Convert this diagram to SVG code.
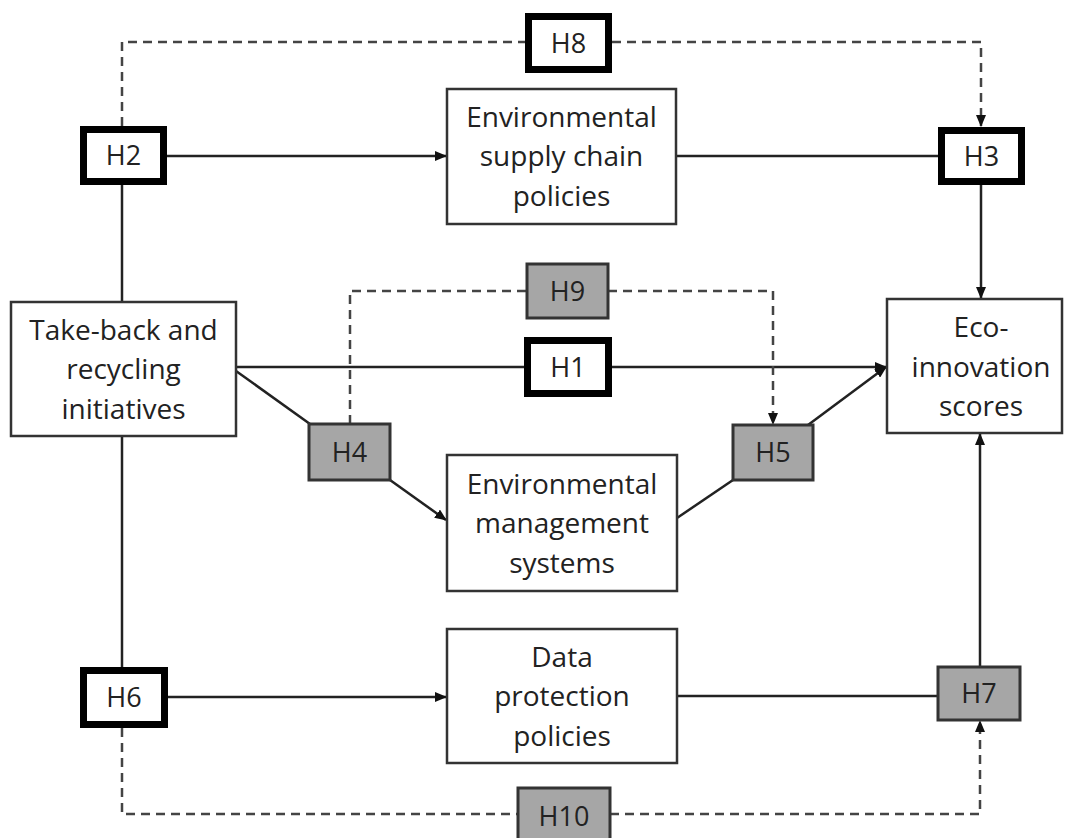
<svg xmlns="http://www.w3.org/2000/svg" width="1068" height="838" viewBox="0 0 1068 838">
<defs>
<marker id="ah" markerUnits="userSpaceOnUse" markerWidth="12" markerHeight="10" refX="11" refY="5" orient="auto">
<path d="M0,0 L12,5 L0,10 Z" fill="#111"/>
</marker>
<style>
.box{fill:#fff;stroke:#333;stroke-width:2.5}
.thick{fill:#fff;stroke:#000;stroke-width:7}
.gray{fill:#a6a6a6;stroke:#333;stroke-width:3}
.lbl{font-family:"Open Sans","Noto Sans",sans-serif;font-size:28px;fill:#222;text-anchor:middle}
.h{font-family:"Open Sans","Noto Sans",sans-serif;font-size:27px;fill:#222;text-anchor:middle}
.ln{fill:none;stroke:#222;stroke-width:2.5}
.ds{fill:none;stroke:#444;stroke-width:2.5;stroke-dasharray:9 6}
</style>
</defs>
<rect width="1068" height="838" fill="#fff"/>
<g id="connectors">
<path class="ds" d="M122,126 V42 H525"/>
<path class="ds" d="M612,42 H981 V126" marker-end="url(#ah)"/>
<path class="ln" d="M167,156 H446" marker-end="url(#ah)"/>
<path class="ln" d="M676,156 H938"/>
<path class="ln" d="M981,185 V298" marker-end="url(#ah)"/>
<path class="ln" d="M122,185 V302"/>
<path class="ln" d="M122,436 V667"/>
<path class="ln" d="M236,367 H524"/>
<path class="ln" d="M612,367 H886" marker-end="url(#ah)"/>
<path class="ln" d="M236,371 L310,424"/>
<path class="ln" d="M390,480 L446,520" marker-end="url(#ah)"/>
<path class="ln" d="M677,518 L733,480"/>
<path class="ln" d="M808,425 L886,367" marker-end="url(#ah)"/>
<path class="ds" d="M350,424 V291 H527"/>
<path class="ds" d="M608,291 H773 V424" marker-end="url(#ah)"/>
<path class="ln" d="M168,697 H446" marker-end="url(#ah)"/>
<path class="ln" d="M677,696 H938"/>
<path class="ln" d="M980,667 V434" marker-end="url(#ah)"/>
<path class="ds" d="M122,728 V814 H518"/>
<path class="ds" d="M610,814 H980 V721" marker-end="url(#ah)"/>
</g>
<g id="takeback">
<rect class="box" x="11" y="302" width="225" height="134"/>
<text class="lbl" x="123.5" y="339.5">Take-back and</text>
<text class="lbl" x="123.5" y="379">recycling</text>
<text class="lbl" x="123.5" y="418.5">initiatives</text>
</g>
<g id="escp">
<rect class="box" x="447" y="89" width="229" height="135"/>
<text class="lbl" x="561.5" y="126.5">Environmental</text>
<text class="lbl" x="561.5" y="166">supply chain</text>
<text class="lbl" x="561.5" y="205.5">policies</text>
</g>
<g id="ems">
<rect class="box" x="447" y="455" width="230" height="136"/>
<text class="lbl" x="562" y="493.5">Environmental</text>
<text class="lbl" x="562" y="533">management</text>
<text class="lbl" x="562" y="572.5">systems</text>
</g>
<g id="dpp">
<rect class="box" x="447" y="629" width="230" height="134"/>
<text class="lbl" x="562" y="666.5">Data</text>
<text class="lbl" x="562" y="706">protection</text>
<text class="lbl" x="562" y="745.5">policies</text>
</g>
<g id="eco">
<rect class="box" x="887" y="299" width="175" height="134"/>
<text class="lbl" x="981" y="337">Eco-</text>
<text class="lbl" x="981" y="376.5">innovation</text>
<text class="lbl" x="981" y="416">scores</text>
</g>
<g id="H8">
<rect class="thick" x="528.5" y="16.5" width="80" height="53"/>
<text class="h" x="568.5" y="52.5">H8</text>
</g>
<g id="H2">
<rect class="thick" x="83.5" y="129.5" width="80" height="52"/>
<text class="h" x="123.5" y="165">H2</text>
</g>
<g id="H3">
<rect class="thick" x="941.5" y="130.5" width="80" height="51"/>
<text class="h" x="981.5" y="165.5">H3</text>
</g>
<g id="H1">
<rect class="thick" x="527.5" y="340.5" width="81" height="53"/>
<text class="h" x="568" y="376.5">H1</text>
</g>
<g id="H6">
<rect class="thick" x="83.5" y="670.5" width="81" height="54"/>
<text class="h" x="124" y="707">H6</text>
</g>
<g id="H9">
<rect class="gray" x="527" y="264" width="81" height="54"/>
<text class="h" x="567.5" y="300.5">H9</text>
</g>
<g id="H4">
<rect class="gray" x="309" y="424" width="81" height="56"/>
<text class="h" x="349.5" y="461.5">H4</text>
</g>
<g id="H5">
<rect class="gray" x="733" y="425" width="80" height="55"/>
<text class="h" x="773" y="462">H5</text>
</g>
<g id="H7">
<rect class="gray" x="938" y="667" width="82" height="53"/>
<text class="h" x="979" y="703">H7</text>
</g>
<g id="H10">
<rect class="gray" x="518" y="788" width="92" height="56"/>
<text class="h" x="564" y="826">H10</text>
</g>
</svg>
